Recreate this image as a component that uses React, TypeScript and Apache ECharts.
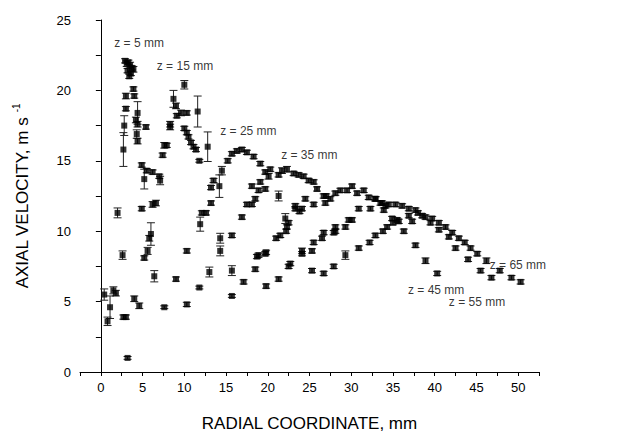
import React, { useEffect, useRef } from "react";
import * as echarts from "echarts";

// [radial coordinate (mm), axial velocity (m/s), error (m/s)]
const z5: number[][] = [
  [0.4, 5.5, 0.4], [1.1, 4.6, 0.8], [2.0, 11.3, 0.35], [2.7, 15.8, 1.2], [2.8, 17.5, 0.7],
  [3.0, 18.7, 0.15], [3.0, 19.6, 0.2], [2.9, 22.1, 0.15], [3.1, 21.9, 0.2], [3.3, 22.0, 0.15],
  [3.5, 21.8, 0.2], [3.7, 21.6, 0.15], [3.2, 21.4, 0.15], [3.6, 21.2, 0.15], [3.9, 21.5, 0.2],
  [3.4, 21.0, 0.15], [3.9, 20.1, 0.15], [4.0, 19.6, 0.15], [4.4, 18.4, 0.8], [4.2, 17.9, 0.2],
  [4.4, 17.6, 0.2], [4.3, 16.9, 0.3], [4.4, 16.4, 0.2], [5.4, 17.4, 0.15], [4.9, 14.7, 0.15],
  [5.5, 14.3, 0.15], [6.2, 14.2, 0.15], [7.0, 13.9, 0.15], [7.1, 13.6, 0.3], [5.2, 13.7, 0.7],
];
const z15: number[][] = [
  [0.8, 3.6, 0.3], [1.5, 5.8, 0.25], [1.8, 5.6, 0.2], [2.6, 8.3, 0.3], [2.7, 3.9, 0.15],
  [3.0, 3.9, 0.15], [3.2, 1.0, 0.1], [4.9, 11.6, 0.15], [5.2, 8.1, 0.15], [5.6, 8.6, 0.25],
  [5.8, 9.5, 0.2], [6.0, 9.8, 0.8], [6.2, 11.9, 0.2], [6.6, 12.0, 0.2], [7.4, 15.4, 0.15],
  [7.6, 16.1, 0.2], [7.9, 16.1, 0.15], [8.3, 17.4, 0.2], [8.3, 17.6, 0.2], [8.7, 19.4, 0.6],
  [9.0, 18.9, 0.2], [9.1, 18.2, 0.15], [9.6, 18.4, 0.2], [10.0, 20.4, 0.3], [10.3, 18.4, 0.15],
  [10.0, 17.3, 0.15], [10.3, 17.0, 0.15], [10.5, 16.7, 0.15], [10.8, 16.3, 0.15], [11.1, 16.0, 0.15],
  [11.4, 15.8, 0.15], [11.6, 18.5, 1.1], [11.8, 15.0, 0.1], [12.8, 16.0, 1.05],
];
const z25: number[][] = [
  [4.0, 5.2, 0.2], [4.6, 4.7, 0.2], [6.4, 6.8, 0.4], [7.6, 4.6, 0.1], [9.0, 6.6, 0.15],
  [10.3, 8.6, 0.15], [11.9, 10.5, 0.5], [12.1, 11.3, 0.15], [12.6, 11.3, 0.15], [13.2, 12.0, 0.15],
  [13.2, 13.1, 0.15], [13.5, 13.6, 0.15], [14.2, 13.2, 0.8], [14.5, 14.3, 0.3], [15.2, 15.0, 0.15],
  [15.7, 15.5, 0.15], [16.3, 15.7, 0.15], [16.9, 15.8, 0.15], [17.5, 15.6, 0.15], [18.3, 15.3, 0.15],
  [19.1, 14.8, 0.15], [19.7, 13.0, 0.15], [21.3, 12.5, 0.35], [23.3, 11.8, 0.15], [23.8, 11.4, 0.15],
  [24.1, 11.6, 0.15],
];
const z35: number[][] = [
  [10.3, 4.8, 0.15], [11.8, 6.0, 0.1], [13.0, 7.1, 0.35], [14.3, 8.6, 0.35], [14.3, 9.5, 0.35],
  [15.7, 9.7, 0.15], [16.9, 11.0, 0.15], [17.5, 11.9, 0.15], [18.1, 11.9, 0.15], [18.5, 12.3, 0.15],
  [18.1, 13.2, 0.15], [18.9, 12.9, 0.15], [19.1, 13.5, 0.15], [20.1, 13.9, 0.2], [19.7, 14.2, 0.15],
  [20.3, 14.4, 0.15], [21.3, 14.0, 0.15], [21.7, 14.3, 0.2], [22.3, 14.4, 0.2], [23.1, 14.1, 0.15],
  [23.7, 14.0, 0.15], [24.3, 13.9, 0.15], [24.9, 13.6, 0.15], [25.5, 13.5, 0.15], [25.9, 13.0, 0.15],
  [26.7, 12.5, 0.15],
];
const z45: number[][] = [
  [15.7, 7.2, 0.35], [17.1, 6.4, 0.15], [18.7, 8.2, 0.15], [19.8, 8.5, 0.15], [21.0, 9.5, 0.15],
  [21.5, 9.7, 0.15], [22.2, 10.0, 0.15], [22.3, 10.3, 0.15], [22.5, 10.6, 0.15], [22.1, 10.9, 0.35],
  [23.3, 11.6, 0.15], [24.5, 12.3, 0.15], [25.5, 11.9, 0.15], [27.0, 12.5, 0.15], [26.9, 12.0, 0.15],
  [27.5, 12.3, 0.15], [28.1, 12.7, 0.15], [28.7, 12.9, 0.15], [29.5, 12.9, 0.15], [30.1, 13.2, 0.15],
  [30.7, 12.7, 0.15], [31.5, 12.9, 0.15], [32.1, 12.4, 0.15], [32.9, 12.3, 0.15], [33.7, 12.0, 0.15],
  [34.5, 11.9, 0.15], [34.9, 10.9, 0.15], [35.7, 10.7, 0.15], [36.3, 10.0, 0.15], [37.7, 9.0, 0.15],
  [38.9, 7.9, 0.2], [40.3, 7.0, 0.15],
];
const z55: number[][] = [
  [18.5, 7.3, 0.15], [18.9, 8.3, 0.15], [19.7, 8.4, 0.15], [22.7, 7.7, 0.15], [24.1, 8.6, 0.2],
  [24.1, 8.4, 0.15], [25.3, 8.6, 0.15], [25.5, 9.2, 0.15], [26.7, 9.9, 0.15], [26.5, 9.5, 0.15],
  [28.1, 10.0, 0.15], [27.9, 9.9, 0.15], [28.1, 10.3, 0.15], [29.3, 10.3, 0.15], [29.7, 10.8, 0.15],
  [30.1, 10.8, 0.15], [30.9, 11.6, 0.15], [32.3, 11.6, 0.15], [32.9, 12.3, 0.15], [33.5, 12.0, 0.15],
  [33.9, 11.5, 0.15], [34.1, 11.8, 0.15], [35.3, 11.9, 0.15], [36.1, 11.8, 0.15], [36.9, 11.6, 0.15],
  [37.7, 11.5, 0.15], [38.5, 11.1, 0.15], [39.5, 10.6, 0.15], [40.5, 10.1, 0.15], [41.7, 9.6, 0.15],
  [42.5, 8.8, 0.15], [44.0, 8.0, 0.15], [45.5, 7.2, 0.15], [46.8, 6.7, 0.15],
];
const z65: number[][] = [
  [15.7, 5.4, 0.1], [19.8, 6.1, 0.15], [21.3, 6.6, 0.15], [22.5, 7.5, 0.15], [25.3, 7.2, 0.15],
  [26.7, 7.0, 0.15], [27.9, 7.5, 0.15], [29.3, 8.3, 0.3], [30.9, 8.8, 0.15], [32.2, 9.2, 0.15],
  [32.9, 9.7, 0.15], [33.8, 10.0, 0.15], [34.3, 10.3, 0.15], [35.0, 10.6, 0.15], [35.5, 10.8, 0.15],
  [36.9, 11.1, 0.15], [37.3, 10.7, 0.15], [38.0, 11.3, 0.15], [38.9, 11.0, 0.15], [39.7, 10.9, 0.15],
  [40.5, 10.6, 0.15], [41.3, 10.3, 0.15], [42.1, 9.9, 0.15], [42.9, 9.5, 0.15], [43.6, 9.2, 0.15],
  [44.3, 8.8, 0.15], [45.1, 8.4, 0.15], [46.2, 7.9, 0.2], [47.8, 7.2, 0.15], [49.2, 6.7, 0.15],
  [50.3, 6.4, 0.15],
];

const seriesNames = ["z = 5 mm", "z = 15 mm", "z = 25 mm", "z = 35 mm", "z = 45 mm", "z = 55 mm", "z = 65 mm"];
const seriesData = [z5, z15, z25, z35, z45, z55, z65];
// annotation anchor (left edge, vertical centre) in data coordinates
const labelX = [1.6, 6.7, 14.3, 21.6, 36.8, 41.7, 46.6];
const labelY = [23.4, 21.7, 17.1, 15.4, 5.8, 5.0, 7.6];

const FONT = "'Liberation Sans', Arial, Helvetica, sans-serif";

export default function App() {
  const ref = useRef<HTMLDivElement>(null);
  useEffect(() => {
    if (!ref.current) return;
    const chart = echarts.init(ref.current, null, { renderer: "svg" });
    const fmt = (v: number) => (Math.abs(v % 5) < 1e-6 ? String(Math.round(v)) : "");
    const series: any[] = [];
    seriesData.forEach((d, i) => {
      series.push({
        type: "custom",
        name: seriesNames[i] + " error",
        data: d,
        encode: { x: 0, y: 1 },
        silent: true,
        z: 2,
        renderItem: (params: any, api: any) => {
          const x = api.value(0);
          const y = api.value(1);
          const e = api.value(2);
          const top = api.coord([x, y + e]);
          const bot = api.coord([x, y - e]);
          const hw = 4;
          const st = { stroke: "#222", lineWidth: 1 };
          return {
            type: "group",
            children: [
              { type: "line", shape: { x1: top[0], y1: top[1], x2: bot[0], y2: bot[1] }, style: st },
              { type: "line", shape: { x1: top[0] - hw, y1: top[1], x2: top[0] + hw, y2: top[1] }, style: st },
              { type: "line", shape: { x1: bot[0] - hw, y1: bot[1], x2: bot[0] + hw, y2: bot[1] }, style: st },
            ],
          };
        },
      });
      series.push({
        type: "scatter",
        name: seriesNames[i],
        data: d.map((p) => [p[0], p[1]]),
        symbol: "rect",
        symbolSize: 6,
        itemStyle: { color: "#000" },
        z: 3,
      });
    });
    series.push({
      type: "scatter",
      name: "labels",
      data: seriesNames.map((n, i) => ({ value: [labelX[i], labelY[i]], name: n })),
      symbolSize: 0,
      silent: true,
      label: {
        show: true,
        position: "right",
        distance: 0,
        formatter: (p: any) => p.name,
        color: "#000",
        fontSize: 12,
        fontFamily: FONT,
      },
    });
    chart.setOption({
      animation: false,
      backgroundColor: "#fff",
      grid: { left: 80, top: 20, width: 459, height: 358, containLabel: false },
      xAxis: {
        type: "value",
        min: -2.5,
        max: 52.5,
        interval: 2.5,
        name: "RADIAL COORDINATE, mm",
        nameLocation: "middle",
        nameGap: 43,
        nameTextStyle: { fontSize: 17, fontFamily: FONT, color: "#000" },
        axisLine: { show: true, lineStyle: { color: "#000", width: 1 } },
        axisTick: { show: true, inside: false, length: 4, lineStyle: { color: "#000" } },
        axisLabel: { formatter: fmt, fontSize: 13, fontFamily: FONT, color: "#000", margin: 9 },
        splitLine: { show: false },
      },
      yAxis: {
        type: "value",
        min: 0,
        max: 25,
        interval: 2.5,
        name: "AXIAL VELOCITY, m s {sup|-1}",
        nameLocation: "middle",
        nameGap: 47,
        nameTextStyle: {
          fontSize: 17,
          fontFamily: FONT,
          color: "#000",
          rich: { sup: { fontSize: 10, fontFamily: FONT, color: "#000", padding: [0, 0, 12, 0] } },
        },
        axisLine: { show: true, lineStyle: { color: "#000", width: 1 } },
        axisTick: { show: true, inside: false, length: 5, lineStyle: { color: "#000" } },
        axisLabel: { formatter: fmt, fontSize: 13, fontFamily: FONT, color: "#000", margin: 9 },
        splitLine: { show: false },
      },
      series,
    });
    return () => chart.dispose();
  }, []);
  return <div ref={ref} style={{ position: "absolute", left: 0, top: 0, width: 618, height: 437 }} />;
}
